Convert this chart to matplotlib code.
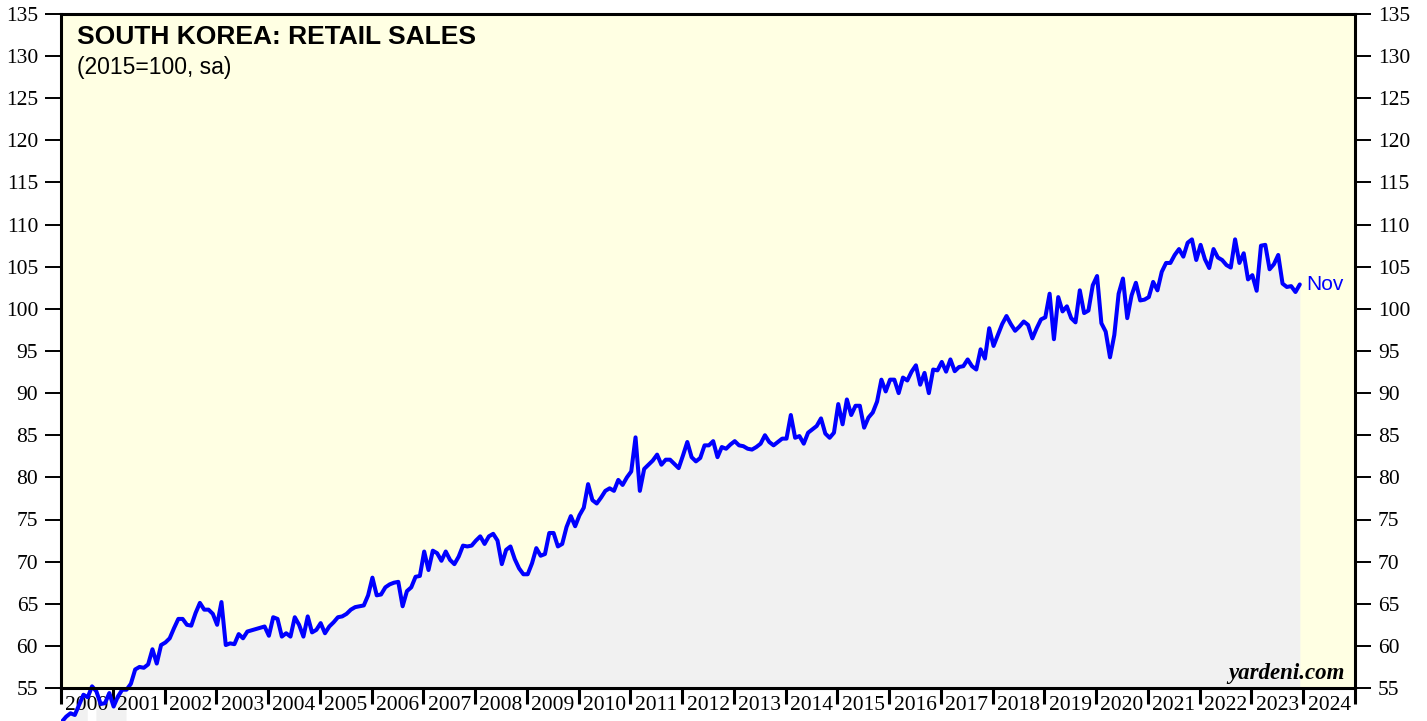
import numpy as np
import matplotlib
matplotlib.use("Agg")
import matplotlib.pyplot as plt
from matplotlib.patches import Rectangle
from matplotlib.ticker import FixedLocator, NullFormatter, FixedFormatter

# ---- data: South Korea retail sales index (2015=100, sa), monthly, Dec 1999 .. Nov 2023
first_month_index = -1  # Dec 1999 (0 = Jan 2000)
sales_1999 = [51.0]
sales_2000_2003 = [
    51.6, 52.0, 51.8, 53.0, 54.2, 53.9, 55.2, 54.6, 53.1, 53.2, 54.4, 52.8,
    54.0, 54.8, 54.8, 55.5, 57.2, 57.5, 57.4, 57.8, 59.6, 57.9, 60.1, 60.4,
    60.9, 62.1, 63.2, 63.2, 62.5, 62.4, 63.9, 65.1, 64.3, 64.3, 63.8, 62.5,
    65.2, 60.1, 60.3, 60.2, 61.4, 60.9, 61.7, 61.85, 62.0, 62.15, 62.3, 61.2,
]
sales_2004_2007 = [
    63.4, 63.2, 61.1, 61.5, 61.1, 63.4, 62.5, 61.1, 63.5, 61.6, 61.9, 62.7,
    61.5, 62.3, 62.8, 63.4, 63.5, 63.8, 64.3, 64.6, 64.7, 64.8, 66.0, 68.1,
    66.0, 66.1, 66.95, 67.3, 67.5, 67.6, 64.7, 66.5, 66.95, 68.2, 68.3, 71.2,
    69.0, 71.3, 71.0, 70.1, 71.2, 70.2, 69.7, 70.6, 71.9, 71.8, 71.9, 72.5,
]
sales_2008_2011 = [
    73.0, 72.1, 73.0, 73.3, 72.5, 69.7, 71.4, 71.8, 70.3, 69.2, 68.5, 68.5,
    69.8, 71.6, 70.7, 70.9, 73.4, 73.4, 71.8, 72.1, 74.1, 75.4, 74.2, 75.5,
    76.4, 79.2, 77.3, 76.9, 77.6, 78.4, 78.7, 78.4, 79.7, 79.1, 80.0, 80.7,
    84.75, 78.4, 81.0, 81.5, 82.0, 82.7, 81.5, 82.1, 82.1, 81.6, 81.1, 82.6,
]
sales_2012_2015 = [
    84.2, 82.4, 81.9, 82.3, 83.8, 83.8, 84.3, 82.4, 83.6, 83.4, 83.9, 84.3,
    83.8, 83.7, 83.4, 83.3, 83.6, 84.0, 85.0, 84.2, 83.8, 84.2, 84.6, 84.6,
    87.4, 84.7, 84.9, 84.0, 85.3, 85.7, 86.1, 87.0, 85.2, 84.7, 85.3, 88.7,
    86.3, 89.25, 87.4, 88.5, 88.5, 85.9, 87.1, 87.7, 89.0, 91.6, 90.2, 91.6,
]
sales_2016_2019 = [
    91.6, 90.0, 91.85, 91.5, 92.55, 93.3, 91.0, 92.4, 90.0, 92.8, 92.7, 93.7,
    92.55, 94.0, 92.6, 93.1, 93.2, 94.0, 93.2, 92.8, 95.2, 94.1, 97.7, 95.6,
    96.9, 98.2, 99.15, 98.2, 97.4, 97.9, 98.5, 98.1, 96.5, 97.7, 98.75, 99.0,
    101.8, 96.4, 101.4, 99.7, 100.3, 98.9, 98.4, 102.2, 99.5, 99.8, 102.8, 103.9,
]
sales_2020_2023 = [
    98.3, 97.3, 94.25, 96.9, 101.8, 103.6, 98.9, 101.6, 103.1, 101.0, 101.1, 101.4,
    103.2, 102.2, 104.4, 105.45, 105.45, 106.4, 107.1, 106.2, 107.85, 108.25, 105.8, 107.6,
    105.9, 104.85, 107.1, 106.1, 105.8, 105.2, 104.9, 108.25, 105.45, 106.6, 103.5, 104.0,
    102.15, 107.5, 107.6, 104.7, 105.3, 106.4, 103.0, 102.6, 102.7, 102.0, 102.9,
]
year_labels = [str(y) for y in range(2000, 2025)]
y_ticks = list(range(55, 136, 5))
title = "SOUTH KOREA: RETAIL SALES"
subtitle = "(2015=100, sa)"
last_label = "Nov"
credit = "yardeni.com"

values = np.array(sales_1999 + sales_2000_2003 + sales_2004_2007 + sales_2008_2011
                  + sales_2012_2015 + sales_2016_2019 + sales_2020_2023)
months = np.arange(first_month_index, first_month_index + len(values))
x = 2000 + (months + 1.2) / 12.0   # plotted near month end

# ---- figure
W, H = 1427, 721
fig = plt.figure(figsize=(W / 100, H / 100), dpi=100)
L, R, B, T = 61, 1355, 688, 14
ax = fig.add_axes([L / W, (H - B) / H, (R - L) / W, (B - T) / H])
ax.set_facecolor("#ffffe3")
ax.set_xlim(2000, 2025)
ax.set_ylim(55, 135)

blue = "#0000ff"
grey = "#f1f1f1"
floor = 40

# grey area under the line inside the plot
ax.fill_between(x, values, floor, color=grey, lw=0, zorder=1)
# grey area under the line where it dips below the axis
ext = Rectangle((0, -0.06), 1, 1.06, transform=ax.transAxes, facecolor="none")
below = ax.fill_between(x, np.minimum(values, 55), floor, where=values <= 55,
                        interpolate=True, color=grey, lw=0, zorder=1)
below.set_clip_path(ext)

line, = ax.plot(x, values, color=blue, lw=2.9, solid_joinstyle="round",
                solid_capstyle="round", zorder=3)
line.set_clip_path(ext)

ax.annotate(last_label, xy=(x[-1], values[-1]), xytext=(5, 0),
            textcoords="offset points", va="center", ha="left",
            color=blue, fontsize=15, family="Liberation Sans")

# spines
for s in ax.spines.values():
    s.set_linewidth(2.2)
    s.set_color("black")
    s.set_zorder(4)

# y axis both sides
ax.yaxis.set_major_locator(FixedLocator(y_ticks))
ax.tick_params(axis="y", which="major", direction="out", length=11.5, width=1.4,
               left=True, right=True, labelleft=True, labelright=True,
               labelsize=15.5, pad=5, colors="black")

# x axis: year boundary ticks, labels centered in each year
ax.xaxis.set_major_locator(FixedLocator(list(range(2000, 2026))))
ax.xaxis.set_major_formatter(NullFormatter())
ax.xaxis.set_minor_locator(FixedLocator([y + 0.5 for y in range(2000, 2025)]))
ax.xaxis.set_minor_formatter(FixedFormatter(year_labels))
ax.tick_params(axis="x", which="major", direction="out", length=11.5, width=2.2)
ax.tick_params(axis="x", which="minor", length=0, labelsize=15.5, pad=6)

for lab in ax.get_yticklabels() + ax.get_xticklabels(minor=True):
    lab.set_family("Liberation Serif")

ax.text(0.0124, 0.984, title, transform=ax.transAxes, ha="left", va="top",
        fontsize=19, fontweight="bold", family="Liberation Sans", zorder=5)
ax.text(0.0124, 0.938, subtitle, transform=ax.transAxes, ha="left", va="top",
        fontsize=16.5, family="Liberation Sans", zorder=5)
ax.text(0.992, 0.013, credit, transform=ax.transAxes, ha="right", va="baseline",
        fontsize=16.5, fontweight="bold", fontstyle="italic",
        family="Liberation Serif", zorder=5)

fig.savefig("out.png", dpi=100)
